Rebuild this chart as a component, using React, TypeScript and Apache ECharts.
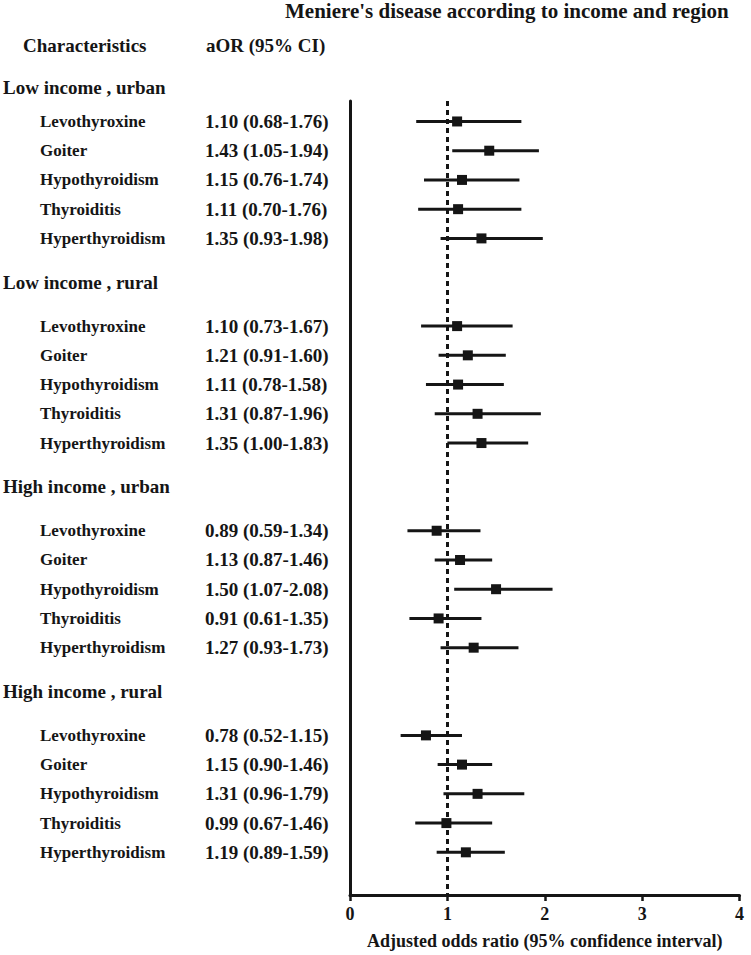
import React, { useEffect, useRef } from "react";
import * as echarts from "echarts";

const titleText = "Meniere's disease according to income and region";
const colHeaders = ["Characteristics", "aOR (95% CI)"];
const xAxisTitle = "Adjusted odds ratio (95% confidence interval)";
const xTicks = [0, 1, 2, 3, 4];

const groups = ["Low income , urban", "Low income , rural", "High income , urban", "High income , rural"];
const conditions = ["Levothyroxine", "Goiter", "Hypothyroidism", "Thyroiditis", "Hyperthyroidism"];

const lowUrbanOR = [1.10, 1.43, 1.15, 1.11, 1.35];
const lowUrbanLo = [0.68, 1.05, 0.76, 0.70, 0.93];
const lowUrbanHi = [1.76, 1.94, 1.74, 1.76, 1.98];

const lowRuralOR = [1.10, 1.21, 1.11, 1.31, 1.35];
const lowRuralLo = [0.73, 0.91, 0.78, 0.87, 1.00];
const lowRuralHi = [1.67, 1.60, 1.58, 1.96, 1.83];

const highUrbanOR = [0.89, 1.13, 1.50, 0.91, 1.27];
const highUrbanLo = [0.59, 0.87, 1.07, 0.61, 0.93];
const highUrbanHi = [1.34, 1.46, 2.08, 1.35, 1.73];

const highRuralOR = [0.78, 1.15, 1.31, 0.99, 1.19];
const highRuralLo = [0.52, 0.90, 0.96, 0.67, 0.89];
const highRuralHi = [1.15, 1.46, 1.79, 1.46, 1.59];

const groupOR = [lowUrbanOR, lowRuralOR, highUrbanOR, highRuralOR];
const groupLo = [lowUrbanLo, lowRuralLo, highUrbanLo, highRuralLo];
const groupHi = [lowUrbanHi, lowRuralHi, highUrbanHi, highRuralHi];

const FONT = "'Liberation Serif', 'Times New Roman', serif";
const INK = "#151515";

export default function App() {
  const ref = useRef<HTMLDivElement>(null);

  useEffect(() => {
    if (!ref.current) return;
    const chart = echarts.init(ref.current, undefined, { renderer: "svg" });

    const GROUP_STEP = 7;
    const points: number[][] = [];
    const bars: number[][] = [];
    const rowLabels: any[] = [];
    const headerLabels: any[] = [];
    groups.forEach((g, gi) => {
      const first = gi * GROUP_STEP;
      headerLabels.push({ value: [0, first + (gi === 0 ? -1.17 : -1.5)], name: g });
      conditions.forEach((c, ci) => {
        const slot = first + ci;
        const or = groupOR[gi][ci];
        const lo = groupLo[gi][ci];
        const hi = groupHi[gi][ci];
        points.push([or, slot]);
        bars.push([lo, hi, slot]);
        rowLabels.push({
          value: [0, slot],
          name: c,
          ci: `${or.toFixed(2)} (${lo.toFixed(2)}-${hi.toFixed(2)})`,
        });
      });
    });

    const option: any = {
      animation: false,
      backgroundColor: "#ffffff",
      grid: { left: 350, right: 11.5, top: 101, bottom: 56, containLabel: false },
      xAxis: {
        type: "value",
        min: 0,
        max: 4,
        interval: 1,
        name: xAxisTitle,
        nameLocation: "middle",
        nameGap: 37,
        nameTextStyle: { fontFamily: FONT, fontWeight: "bold", fontSize: 18, color: INK },
        axisLine: { show: true, onZero: false, lineStyle: { color: INK, width: 3 } },
        axisTick: { show: true, length: 6, lineStyle: { color: INK, width: 2.5 } },
        axisLabel: {
          fontFamily: FONT,
          fontWeight: "bold",
          fontSize: 18,
          color: INK,
          margin: 10,
          formatter: (v: number) => (xTicks.includes(v) ? String(v) : ""),
        },
        splitLine: { show: false },
      },
      yAxis: {
        type: "value",
        inverse: true,
        min: -0.7,
        max: 26.46,
        axisLine: { show: true, onZero: false, lineStyle: { color: INK, width: 3 } },
        axisTick: { show: false },
        axisLabel: { show: false },
        splitLine: { show: false },
      },
      graphic: [
        {
          type: "text",
          left: 285,
          top: 0,
          style: { text: titleText, font: `bold 21px ${FONT}`, fill: INK },
        },
        {
          type: "text",
          left: 23,
          top: 36,
          style: { text: colHeaders[0], font: `bold 19px ${FONT}`, fill: INK },
        },
        {
          type: "text",
          left: 206,
          top: 36,
          style: { text: colHeaders[1], font: `bold 19px ${FONT}`, fill: INK },
        },
      ],
      series: [
        {
          type: "custom",
          name: "headers",
          coordinateSystem: "cartesian2d",
          clip: false,
          silent: true,
          data: headerLabels,
          encode: { x: 0, y: 1 },
          renderItem: (params: any, api: any) => {
            const p = api.coord([0, api.value(1)]);
            const item = headerLabels[params.dataIndex];
            return {
              type: "text",
              style: {
                x: 3,
                y: p[1],
                text: item.name,
                font: `bold 19px ${FONT}`,
                fill: INK,
                align: "left",
                verticalAlign: "middle",
              },
            };
          },
        },
        {
          type: "custom",
          name: "rows",
          coordinateSystem: "cartesian2d",
          clip: false,
          silent: true,
          data: rowLabels,
          encode: { x: 0, y: 1 },
          renderItem: (params: any, api: any) => {
            const p = api.coord([0, api.value(1)]);
            const item = rowLabels[params.dataIndex];
            return {
              type: "group",
              children: [
                {
                  type: "text",
                  style: {
                    x: 40,
                    y: p[1],
                    text: item.name,
                    font: `bold 17px ${FONT}`,
                    fill: INK,
                    align: "left",
                    verticalAlign: "middle",
                  },
                },
                {
                  type: "text",
                  style: {
                    x: 205,
                    y: p[1],
                    text: item.ci,
                    font: `bold 19px ${FONT}`,
                    fill: INK,
                    align: "left",
                    verticalAlign: "middle",
                  },
                },
              ],
            };
          },
        },
        {
          type: "custom",
          name: "ci",
          coordinateSystem: "cartesian2d",
          silent: true,
          data: bars,
          encode: { x: [0, 1], y: 2 },
          renderItem: (params: any, api: any) => {
            const a = api.coord([api.value(0), api.value(2)]);
            const b = api.coord([api.value(1), api.value(2)]);
            return {
              type: "line",
              shape: { x1: a[0], y1: a[1], x2: b[0], y2: b[1] },
              style: { stroke: INK, lineWidth: 3 },
            };
          },
          z: 3,
        },
        {
          type: "scatter",
          name: "aOR",
          data: points,
          symbol: "rect",
          symbolSize: 10,
          itemStyle: { color: INK, opacity: 1 },
          silent: true,
          z: 4,
          markLine: {
            silent: true,
            symbol: ["none", "none"],
            label: { show: false },
            lineStyle: { color: INK, width: 3, type: [5, 4], opacity: 1 },
            data: [{ xAxis: 1 }],
          },
        },
      ],
    };

    chart.setOption(option);
    return () => chart.dispose();
  }, []);

  return (
    <div
      ref={ref}
      style={{ position: "absolute", left: 0, top: 0, width: 751, height: 955, background: "#fff" }}
    />
  );
}
